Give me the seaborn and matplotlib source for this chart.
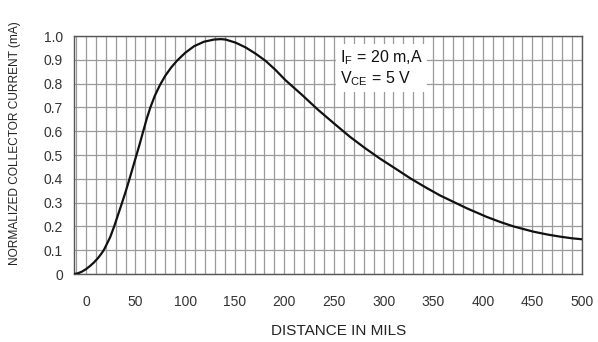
import matplotlib
matplotlib.use("Agg")
import matplotlib.pyplot as plt
from matplotlib.ticker import MultipleLocator, FuncFormatter
import seaborn as sns
import pandas as pd

# Normalized collector current vs. distance (mils)
distance_mils = [-12, -8, -4, 0, 4, 8, 12, 15, 18, 21, 24.5, 28.5, 32.5, 36.5, 40,
                 44, 47.5, 51, 54.5, 57.8, 61.3, 65, 69.5, 74.5, 80, 86, 92, 100,
                 109, 119, 129, 136, 141, 151, 161, 171, 181, 191, 201, 218, 234,
                 250, 266, 281, 296, 312, 327, 342, 357, 371, 384, 404, 418, 431,
                 451, 465, 478, 490, 500]
collector_current = [0.0, 0.003, 0.01, 0.02, 0.033, 0.048, 0.066, 0.082, 0.10,
                     0.125, 0.155, 0.20, 0.25, 0.30, 0.345, 0.40, 0.45, 0.50, 0.55,
                     0.60, 0.652, 0.70, 0.749, 0.793, 0.833, 0.868, 0.897, 0.929,
                     0.957, 0.976, 0.985, 0.987, 0.985, 0.972, 0.952, 0.926, 0.896,
                     0.858, 0.815, 0.752, 0.69, 0.633, 0.577, 0.53, 0.486, 0.443,
                     0.402, 0.365, 0.33, 0.302, 0.276, 0.24, 0.218, 0.20, 0.178,
                     0.166, 0.157, 0.150, 0.146]

x_ticks = [0, 50, 100, 150, 200, 250, 300, 350, 400, 450, 500]
y_ticks = [0, 0.1, 0.2, 0.3, 0.4, 0.5, 0.6, 0.7, 0.8, 0.9, 1.0]

sns.set_theme(style="white")
plt.rcParams["font.family"] = ["Liberation Sans", "DejaVu Sans"]
plt.rcParams["mathtext.fontset"] = "custom"
plt.rcParams["mathtext.rm"] = "Liberation Sans"

fig = plt.figure(figsize=(5.98, 3.42), dpi=100)
ax = fig.add_axes([0.1237, 0.1988, 0.8495, 0.6959])

df = pd.DataFrame({"d": distance_mils, "i": collector_current})
sns.lineplot(data=df, x="d", y="i", ax=ax, color="#111111", linewidth=1.6,
             sort=False, zorder=5)

ax.set_xlim(-12, 500)
ax.set_ylim(0, 1.0)
ax.set_xticks(x_ticks)
ax.set_yticks(y_ticks)
ax.xaxis.set_minor_locator(MultipleLocator(10))
ax.yaxis.set_minor_locator(MultipleLocator(0.1))
ax.yaxis.set_major_formatter(FuncFormatter(lambda v, p: "0" if v == 0 else f"{v:.1f}"))

ax.grid(True, which="both", color="#9a9a9a", linewidth=0.9)
ax.set_axisbelow(True)
ax.tick_params(axis="both", which="both", length=0, labelsize=10,
               labelcolor="#333333")
ax.tick_params(axis="x", pad=15)
ax.tick_params(axis="y", pad=8)

for s in ax.spines.values():
    s.set_color("#555555")
    s.set_linewidth(1.0)

ax.set_xlabel("DISTANCE IN MILS", fontsize=11, color="#222222")
ax.set_ylabel("NORMALIZED COLLECTOR CURRENT (mA)", fontsize=8.6, color="#222222")
ax.xaxis.set_label_coords(0.52, -0.212)
ax.yaxis.set_label_coords(-0.104, 0.55)

ax.text(256, 0.865, r"$\mathregular{I_F}$ = 20 m,A" + "\n" + r"$\mathregular{V_{CE}}$ = 5 V",
        fontsize=11.5, color="#111111", ha="left", va="center", linespacing=1.15,
        zorder=6,
        bbox=dict(boxstyle="square,pad=0.25", facecolor="white", edgecolor="none"))

fig.savefig("out.png", dpi=100)
